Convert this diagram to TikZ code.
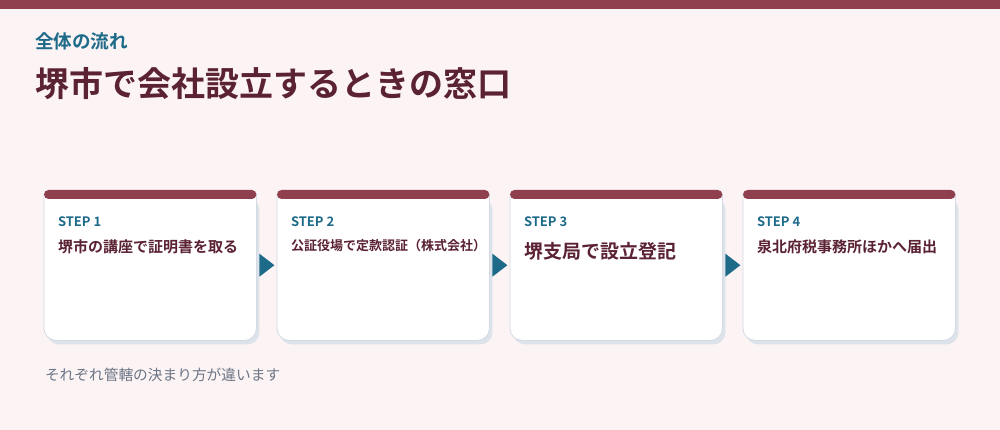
\documentclass[tikz,border=0pt]{standalone}
\usepackage{fontspec}
\setmainfont{Noto Sans CJK JP}[BoldFont={Noto Sans CJK JP Bold}]
\definecolor{bgc}{HTML}{FCF3F4}
\definecolor{maroon}{HTML}{8F3F4D}
\definecolor{tealc}{HTML}{1D6A89}
\definecolor{darkc}{HTML}{5A2233}
\definecolor{grayc}{HTML}{6B7585}
\definecolor{borderc}{HTML}{D3DAE4}
\definecolor{shadowc}{HTML}{DCE3EB}
\tikzset{
  txt/.style={anchor=base west, inner sep=0pt, outer sep=0pt},
  cardbox/.style={minimum width=212pt, minimum height=150pt, inner sep=0pt, anchor=north west},
  steplabel/.style={txt, text=tealc, font=\bfseries\fontsize{13}{13}\selectfont},
  maintext/.style={txt, text=darkc, font=\bfseries\fontsize{#1}{#1}\selectfont},
}
\begin{document}
\begin{tikzpicture}[x=1pt,y=-1pt]
\fill[bgc] (0,0) rectangle (1000,430);
\useasboundingbox (0,0) rectangle (1000,430);
\fill[maroon] (0,0) rectangle (1000,8.7);
\node[txt, text=tealc, font=\bfseries\fontsize{18.6}{18.6}\selectfont] (sub) at (35,49) {全体の流れ};
\node[txt, text=darkc, font=\bfseries\fontsize{34}{34}\selectfont] (title) at (35,97) {堺市で会社設立するときの窓口};
\foreach \i/\x in {1/44,2/277,3/510,4/743}{
  \node[cardbox] (c\i) at (\x,190) {};
  \fill[shadowc, rounded corners=12pt] ([shift={(3,8)}]c\i.north west) -- ([shift={(3,4)}]c\i.south west) -- ([shift={(3,4)}]c\i.south east) -- ([shift={(3,8)}]c\i.north east) -- cycle;
  \path[fill=white, draw=borderc, line width=0.8pt, rounded corners=12pt] ([shift={(0,4)}]c\i.north west) -- (c\i.south west) -- (c\i.south east) -- ([shift={(0,4)}]c\i.north east);
  \fill[maroon, rounded corners=4.5pt] (c\i.north west) rectangle ([shift={(0,9)}]c\i.north east);
  \node[steplabel] (s\i) at ([shift={(14,36)}]c\i.north west) {STEP \i};
}
\foreach \i in {1,2,3}{
  \fill[tealc] ([shift={(3,-11.5)}]c\i.east) -- ([shift={(18,0)}]c\i.east) -- ([shift={(3,11.5)}]c\i.east) -- cycle;
}
\node[maintext=15] (t1) at ([shift={(14,62)}]c1.north west) {堺市の講座で証明書を取る};
\node[maintext=13] (t2) at ([shift={(14,61)}]c2.north west) {公証役場で定款認証（株式会社）};
\node[maintext=19] (t3) at ([shift={(14,68.5)}]c3.north west) {堺支局で設立登記};
\node[maintext=15] (t4) at ([shift={(14,62)}]c4.north west) {泉北府税事務所ほかへ届出};
\node[txt, text=grayc, font=\fontsize{14.7}{14.7}\selectfont] (foot) at (45,380) {それぞれ管轄の決まり方が違います};
\end{tikzpicture}
\end{document}
